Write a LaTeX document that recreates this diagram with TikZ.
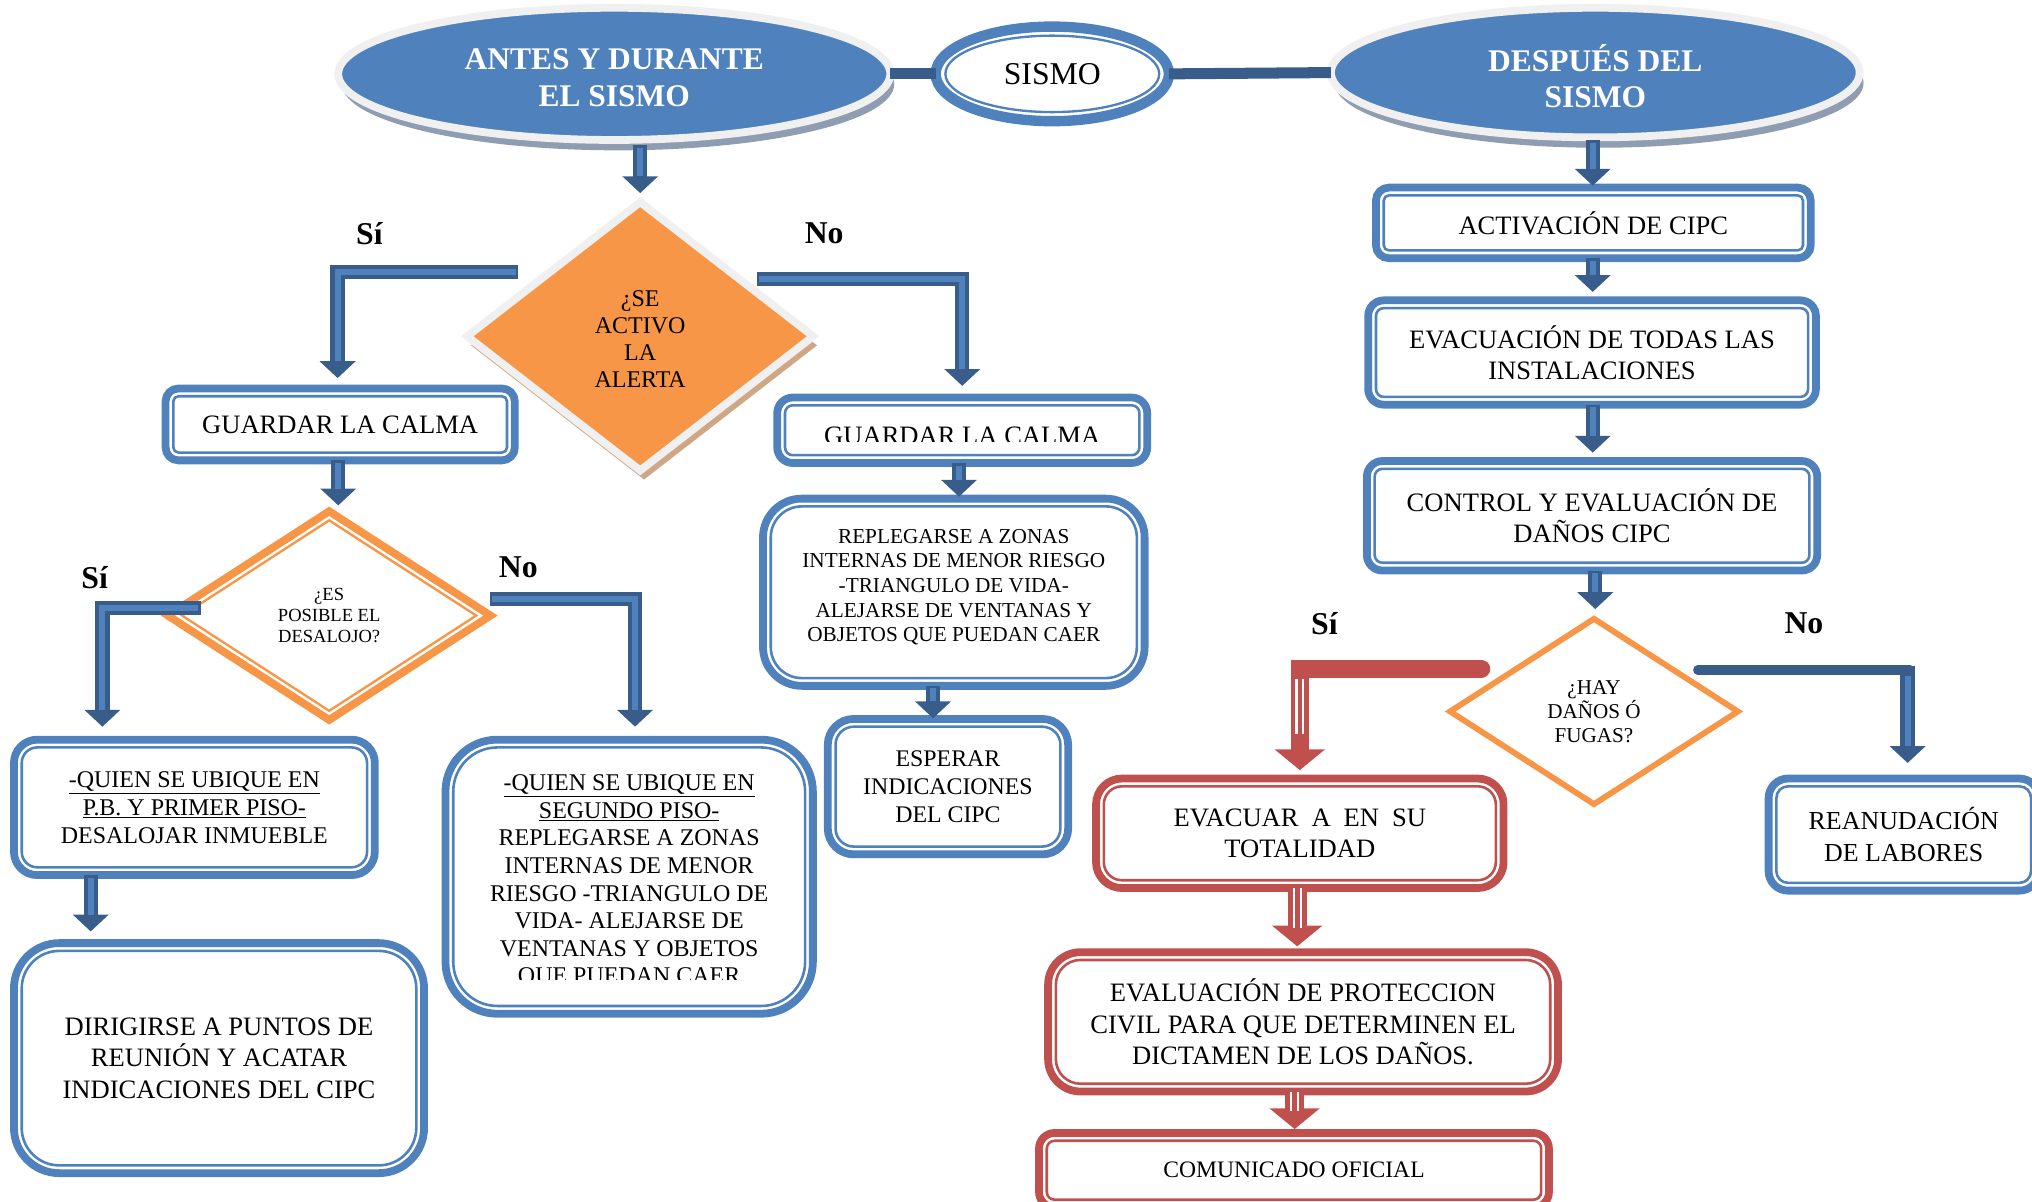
\documentclass[tikz,border=0pt]{standalone}
\usepackage{fontspec}
\setmainfont{Liberation Serif}
\usetikzlibrary{shapes.geometric,arrows.meta,calc,shadows}
\definecolor{bl}{HTML}{4F81BD}
\definecolor{dbl}{HTML}{385D8A}
\definecolor{org}{HTML}{F79646}
\definecolor{rd}{HTML}{C0504D}
\definecolor{rim}{HTML}{F0F0F0}
\definecolor{shd}{HTML}{8F9DB3}
\definecolor{tanc}{HTML}{CFA784}
\newcommand\fs[2]{\fontsize{#1}{#2}\selectfont}
\newcommand\innerln[3]{\draw[#2,line width=2pt,rounded corners=#3] ($(#1.south west)+(6pt,6pt)$) rectangle ($(#1.north east)+(-6pt,-6pt)$);}
\newcommand\bluearrow[1]{\draw[barr] #1; \draw[bstr] #1;}
\newcommand\redarrow[1]{\draw[rarr] #1; \draw[rstrA] #1; \draw[rstrB] #1;}
\begin{document}
\begin{tikzpicture}[x=1pt,y=-1pt,
 box/.style={draw=#1,line width=6pt,fill=white,align=center,inner sep=0pt,outer sep=0pt,font=\fs{20.5}{24.3}},
 ell/.style={ellipse,fill=bl,draw=rim,line width=6pt,inner sep=0pt,outer sep=0pt,
   drop shadow={shadow xshift=3pt,shadow yshift=-8pt,fill=shd,opacity=1}},
 elltext/.style={align=center,text=white,inner sep=0pt,font=\bfseries\fs{24.3}{28}},
 dmd/.style={diamond,inner sep=0pt,outer sep=0pt,align=center},
 barr/.style={draw=dbl,line width=11pt,line join=miter,-{Triangle[width=27pt,length=13pt]}},
 bstr/.style={draw=bl,line width=4.5pt,line join=miter,shorten >=13pt,shorten <=2pt},
 rarr/.style={draw=rd,line width=15pt,-{Triangle[width=38pt,length=16pt]}},
 rstrA/.style={draw=white,line width=7pt,shorten >=14pt},
 rstrB/.style={draw=rd,line width=3.5pt,shorten >=14pt},
 lab/.style={font=\bfseries\fs{24.5}{28}},
 conn/.style={draw=dbl,line width=8.5pt}]
\useasboundingbox (0,0) rectangle (1568,927);

% ---- top ellipses ----
\node[ell,minimum width=426pt,minimum height=102pt] (antes) at (474,57) {};
\node[elltext] (antest) at (474,60) {ANTES Y DURANTE\\EL SISMO};
\node[ell,minimum width=408pt,minimum height=100pt] (despues) at (1231,56) {};
\node[elltext] (despuest) at (1231,59) {DESPUÉS DEL\\SISMO};
\node[ellipse,draw=bl,line width=8pt,fill=white,inner sep=0pt,outer sep=0pt,minimum width=180pt,minimum height=73pt,font=\fs{24.5}{28}] (sismo) at (812,57) {SISMO};
\draw[bl,line width=1.8pt] (sismo.center) ellipse [x radius=82.5pt, y radius=29.5pt];
\draw[conn] (antes.east) -- (sismo.west);
\draw[conn] (sismo.east) -- (despues.west);

% ---- left branch ----
\node[dmd,fill=org,draw=rim,line width=6pt,minimum width=267pt,minimum height=207pt,
  drop shadow={shadow xshift=3pt,shadow yshift=-7pt,fill=tanc,opacity=1}] (alerta) at (494,259.5) {};
\node[align=center,inner sep=0pt,font=\fs{18.5}{20.7}] (alertat) at (494,261.5) {¿SE\\ACTIVO\\LA\\ALERTA};

\node[box=bl,rounded corners=10pt,minimum width=269.5pt,minimum height=55.5pt] (b1) at (262.5,327.5) {GUARDAR LA CALMA};
\innerln{b1}{bl}{4pt}

\node[dmd,fill=white,draw=org,line width=6pt,minimum width=249pt,minimum height=161pt,
  font=\fs{14.3}{16.5}] (des) at (254,475) {¿ES\\POSIBLE EL\\DESALOJO?};
\node[dmd,draw=org,line width=1.8pt,minimum width=227pt,minimum height=147pt] (desi) at (des.center) {};

\node[box=bl,rounded corners=18pt,minimum width=278.5pt,minimum height=104.5pt,font=\fs{18.5}{21.5}] (b2) at (150,623)
  {\underline{-QUIEN SE UBIQUE EN}\\\underline{P.B. Y PRIMER PISO-}\\DESALOJAR INMUEBLE};
\innerln{b2}{bl}{12pt}

\node[box=bl,rounded corners=35pt,minimum width=316.5pt,minimum height=177.5pt] (b3) at (169,816.5)
  {DIRIGIRSE A PUNTOS DE\\REUNIÓN Y ACATAR\\INDICACIONES DEL CIPC};
\innerln{b3}{bl}{29pt}

\node[box=bl,rounded corners=40pt,minimum width=283.5pt,minimum height=211.5pt] (b4) at (485.5,676.5) {};
\innerln{b4}{bl}{34pt}
\begin{scope}
\clip (0,0) rectangle (1568,755.5);
\node[align=center,font=\fs{18.5}{21.3},inner sep=0pt] (b4t) at (485.5,680)
  {\underline{-QUIEN SE UBIQUE EN}\\\underline{SEGUNDO PISO-}\\REPLEGARSE A ZONAS\\INTERNAS DE MENOR\\RIESGO -TRIANGULO DE\\VIDA- ALEJARSE DE\\VENTANAS Y OBJETOS\\QUE PUEDAN CAER};
\end{scope}

% ---- middle branch ----
\node[box=bl,rounded corners=12pt,minimum width=285.5pt,minimum height=50.5pt] (b5) at (742.5,332) {};
\innerln{b5}{bl}{6pt}
\begin{scope}
\clip (0,0) rectangle (1568,341);
\node[font=\fs{20.5}{24.3},inner sep=0pt] (b5t) at (742.5,336) {GUARDAR LA CALMA};
\end{scope}

\node[box=bl,rounded corners=30pt,minimum width=294.5pt,minimum height=144.5pt] (b6) at (736,457) {};
\innerln{b6}{bl}{24pt}
\node[align=center,inner sep=0pt,font=\fs{16.4}{19}] (b6t) at (736,453)
  {REPLEGARSE A ZONAS\\INTERNAS DE MENOR RIESGO\\-TRIANGULO DE VIDA-\\ALEJARSE DE VENTANAS Y\\OBJETOS QUE PUEDAN CAER};

\node[box=bl,rounded corners=20pt,minimum width=185.5pt,minimum height=104.5pt,font=\fs{18.4}{21.5}] (b7) at (731.5,607)
  {ESPERAR\\INDICACIONES\\DEL CIPC};
\innerln{b7}{bl}{14pt}

% ---- right branch ----
\node[box=bl,rounded corners=10pt,minimum width=335.5pt,minimum height=54.5pt] (b8) at (1229.5,172) {ACTIVACIÓN DE CIPC};
\innerln{b8}{bl}{4pt}
\node[box=bl,rounded corners=12pt,minimum width=345.5pt,minimum height=80.5pt] (b9) at (1228.5,272) {EVACUACIÓN DE TODAS LAS\\INSTALACIONES};
\innerln{b9}{bl}{6pt}
\node[box=bl,rounded corners=12pt,minimum width=347.5pt,minimum height=84.5pt] (b10) at (1228.5,398) {CONTROL Y EVALUACIÓN DE\\DAÑOS CIPC};
\innerln{b10}{bl}{6pt}

\node[dmd,fill=white,draw=org,line width=4.5pt,minimum width=222pt,minimum height=143pt,
  font=\fs{16.3}{18.5}] (hay) at (1230,549) {¿HAY\\DAÑOS Ó\\FUGAS?};

\node[box=bl,rounded corners=15pt,minimum width=208.5pt,minimum height=86.5pt,font=\fs{20}{24.5}] (b11) at (1469,644) {REANUDACIÓN\\DE LABORES};
\innerln{b11}{bl}{9pt}

\node[box=rd,rounded corners=20pt,minimum width=314.5pt,minimum height=84.5pt] (b12) at (1003,643)
  {EVACUAR\hspace{10pt}A\hspace{10pt}EN\hspace{10pt}SU\\TOTALIDAD};
\innerln{b12}{rd}{14pt}
\node[box=rd,rounded corners=25pt,minimum width=393.5pt,minimum height=107.5pt] (b13) at (1005.5,788.5)
  {EVALUACIÓN DE PROTECCION\\CIVIL PARA QUE DETERMINEN EL\\DICTAMEN DE LOS DAÑOS.};
\innerln{b13}{rd}{19pt}
\node[box=rd,rounded corners=12pt,minimum width=393.5pt,minimum height=57.5pt,font=\fs{18.2}{22}] (b14) at (998.5,903) {COMUNICADO OFICIAL};
\innerln{b14}{rd}{6pt}

% ---- labels ----
\node[lab] (l1) at (285,180) {Sí};
\node[lab] (l2) at (636,180) {No};
\node[lab] (l3) at (73,446) {Sí};
\node[lab] (l4) at (400,438) {No};
\node[lab] (l5) at (1022,481) {Sí};
\node[lab] (l6) at (1392,481) {No};

% ---- connectors ----
\coordinate (s1) at (400,210);
\coordinate (s2) at (584,215);
\coordinate (s3) at (155,469);
\coordinate (s4) at (378,462);
\coordinate (s5) at (1143,516);
\coordinate (s6) at (1310,517);

\bluearrow{($(antes.south -| alerta.north)+(0,4)$) -- ([yshift=7pt]alerta.north)}
\bluearrow{(s1) -| ([xshift=-2pt,yshift=8pt]b1.north)}
\bluearrow{(s2) -| ([yshift=9pt]b5.north)}
\bluearrow{($(b1.south)+(-1.5,0)$) -- ($(b1.south |- des.north)+(-1.5,-4.5)$)}
\bluearrow{(s3) -| ([xshift=-71pt,yshift=10pt]b2.north)}
\bluearrow{(s4) -| ([xshift=4.5pt,yshift=10pt]b4.north)}
\bluearrow{($(b2.south)+(-80,0)$) -- ($(b2.south |- b3.north)+(-80,-9)$)}
\bluearrow{($(b5.south)+(-2.5,0)$) -- ($(b5.south |- b6.north)+(-2.5,-1.5)$)}
\bluearrow{($(b6.south)+(-16,0)$) -- ($(b6.south |- b7.north)+(-16,-0.5)$)}
\bluearrow{($(despues.south)+(-2,2)$) -- ($(despues.south |- b8.north)+(-2,-1.5)$)}
\bluearrow{($(b8.south)+(-0.5,0)$) -- ($(b8.south |- b9.north)+(-0.5,-6.5)$)}
\bluearrow{($(b9.south)+(0.5,0)$) -- ($(b9.south |- b10.north)+(0.5,-6.5)$)}
\bluearrow{($(b10.south)+(2.5,0)$) -- ($(b10.south |- hay.north)+(2.5,-7.5)$)}

% hay -> no
\draw[dbl,line width=7pt,line cap=round] (s6) -- ($(s6 -| b11.north)+(5,0)$);
\draw[barr] ($(s6 -| b11.north)+(3,-3)$) -- ([xshift=3pt,yshift=12pt]b11.north);
\draw[bstr] ($(s6 -| b11.north)+(3,3)$) -- ([xshift=3pt,yshift=12pt]b11.north);

% hay -> si (red)
\draw[rd,line width=14pt,line cap=round,line join=miter,-{Triangle[width=38pt,length=16pt]}] (s5) -| ([yshift=6.5pt]b12.north);
\coordinate (r1) at ($(s5 -| b12.north)+(0,8)$);
\coordinate (r2) at ($(b12.north)+(0,-20)$);
\draw[rstrA] (r1) -- (r2);
\draw[rstrB] (r1) -- (r2);

\redarrow{($(b12.south)+(-2,0)$) -- ($(b12.south |- b13.north)+(-2,-4.5)$)}
\redarrow{($(b13.south)+(-6.5,0)$) -- ($(b13.south |- b14.north)+(-6.5,-3)$)}
\end{tikzpicture}
\end{document}
